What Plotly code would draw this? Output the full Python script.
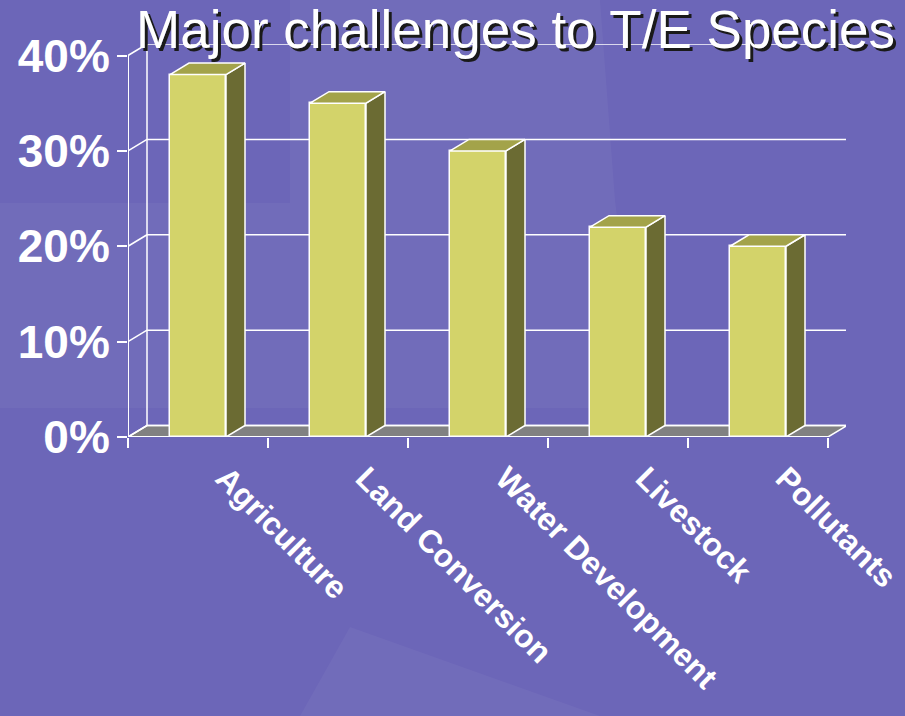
import plotly.graph_objects as go

# ---------------- data ----------------
categories = ["Agriculture", "Land Conversion", "Water Development", "Livestock", "Pollutants"]
values = [38, 35, 30, 22, 20]
y_ticks = [0, 10, 20, 30, 40]
y_tick_labels = ["0%", "10%", "20%", "30%", "40%"]
title_text = "Major challenges to T/E Species"

# ---------------- geometry / style ----------------
W, H = 905, 716
ML, MR, MT, MB = 128, 59, 44, 279
plot_w = W - ML - MR
plot_h = H - MT - MB
n = len(categories)
front_w_px = 700.0
px_per_cat = front_w_px / n
depth_x_px, depth_y_px = 19.0, 11.5
y_max = max(y_ticks)
px_per_pct = (plot_h - depth_y_px) / y_max
DX = depth_x_px / px_per_cat
DY = depth_y_px / px_per_pct
x_lo = -0.5
x_front_hi = x_lo + n
x_hi = x_lo + plot_w / px_per_cat
y_hi = y_max + DY
BAR_W = 0.4

BG = "#6C66B8"
LIGHT = "rgba(255,255,255,0.04)"
FRONT = "#D3D36A"
SIDE = "#6B6B33"
TOP = "#A3A34A"
FLOOR = "#818181"
WHITE = "white"
FONT = "Liberation Sans, Arial, sans-serif"


def px_to_paper(px, py):
    return (px - ML) / plot_w, 1 - (py - MT) / plot_h


def bg_path(points):
    pts = [px_to_paper(x, y) for x, y in points]
    return "M " + " L ".join(f"{a:.4f},{b:.4f}" for a, b in pts) + " Z"


fig = go.Figure()

# front faces of the bars
fig.add_trace(go.Bar(
    x=list(range(n)), y=values, width=BAR_W,
    marker=dict(color=FRONT, line=dict(color=WHITE, width=1.5)),
    hoverinfo="skip", showlegend=False,
))

# side faces and top faces, built from the values
side_x, side_y, top_x, top_y = [], [], [], []
for i, v in enumerate(values):
    r = i + BAR_W / 2
    l = i - BAR_W / 2
    side_x += [r, r + DX, r + DX, r, r, None]
    side_y += [0, DY, v + DY, v, 0, None]
    top_x += [l, r, r + DX, l + DX, l, None]
    top_y += [v, v, v + DY, v + DY, v, None]

fig.add_trace(go.Scatter(x=side_x, y=side_y, mode="lines", fill="toself",
                         fillcolor=SIDE, line=dict(color=WHITE, width=1.5),
                         hoverinfo="skip", showlegend=False))
fig.add_trace(go.Scatter(x=top_x, y=top_y, mode="lines", fill="toself",
                         fillcolor=TOP, line=dict(color=WHITE, width=1.5),
                         hoverinfo="skip", showlegend=False))

shapes = []
# subtle background decoration
shapes.append(dict(type="path", xref="paper", yref="paper", layer="below",
                   path=bg_path([(290, 0), (600, 0), (615, 200), (640, 408), (0, 408), (0, 203), (290, 203)]),
                   fillcolor=LIGHT, line=dict(width=0)))
shapes.append(dict(type="path", xref="paper", yref="paper", layer="below",
                   path=bg_path([(350, 627), (600, 716), (300, 716)]),
                   fillcolor=LIGHT, line=dict(width=0)))

line_w = dict(color=WHITE, width=1.5)
# floor
shapes.append(dict(type="path", xref="x", yref="y", layer="below",
                   path=f"M {x_lo},0 L {x_front_hi},0 L {x_front_hi+DX},{DY} L {x_lo+DX},{DY} Z",
                   fillcolor=FLOOR, line=line_w))
# back wall gridlines and side-wall connectors
for v in y_ticks:
    shapes.append(dict(type="line", xref="x", yref="y", layer="below",
                       x0=x_lo + DX, x1=x_front_hi + DX, y0=v + DY, y1=v + DY, line=line_w))
    shapes.append(dict(type="line", xref="x", yref="y", layer="below",
                       x0=x_lo, x1=x_lo + DX, y0=v, y1=v + DY, line=line_w))
# back wall verticals
for xv in (x_lo + DX, x_front_hi + DX):
    shapes.append(dict(type="line", xref="x", yref="y", layer="below",
                       x0=xv, x1=xv, y0=DY, y1=y_max + DY, line=line_w))
# front vertical axis
shapes.append(dict(type="line", xref="x", yref="y", layer="below",
                   x0=x_lo, x1=x_lo, y0=0, y1=y_max, line=dict(color=WHITE, width=2)))
# front floor edge (x axis line)
shapes.append(dict(type="line", xref="x", yref="y", layer="above",
                   x0=x_lo, x1=x_front_hi, y0=0, y1=0, line=dict(color=WHITE, width=2)))

fig.update_layout(
    width=W, height=H,
    margin=dict(l=ML, r=MR, t=MT, b=MB, pad=0),
    paper_bgcolor=BG, plot_bgcolor="rgba(0,0,0,0)",
    shapes=shapes,
    showlegend=False,
    bargap=0,
    title=dict(text=title_text, x=136 / W, xanchor="left", xref="container",
               y=1 - 29 / H, yanchor="middle", yref="container",
               font=dict(family=FONT, size=53, color=WHITE,
                         shadow="3px 3px 0px #1a1a1a")),
    xaxis=dict(range=[x_lo, x_hi], showgrid=False, zeroline=False, showline=False,
               tickmode="array", tickvals=list(range(n)), ticktext=categories,
               ticks="", tickangle=45, automargin=False,
               ticklabelshift=27, ticklabelstandoff=15, ticklabeloverflow="allow",
               tickfont=dict(family=FONT, size=32, color=WHITE, weight="bold"),
               minor=dict(tickmode="array", tickvals=[x_lo + k for k in range(n + 1)],
                          ticks="outside", ticklen=10, tickwidth=2, tickcolor=WHITE)),
    yaxis=dict(range=[0, y_hi], showgrid=False, zeroline=False, showline=False,
               tickmode="array", tickvals=y_ticks, ticktext=y_tick_labels,
               ticks="outside", ticklen=10, tickwidth=2, tickcolor=WHITE,
               ticklabelstandoff=-2, automargin=False,
               tickfont=dict(family=FONT, size=46, color=WHITE, weight="bold")),
)

fig.write_html("out.html", config={"displayModeBar": False},
               post_script="document.body.style.margin='0';document.body.style.background='#6C66B8';")
